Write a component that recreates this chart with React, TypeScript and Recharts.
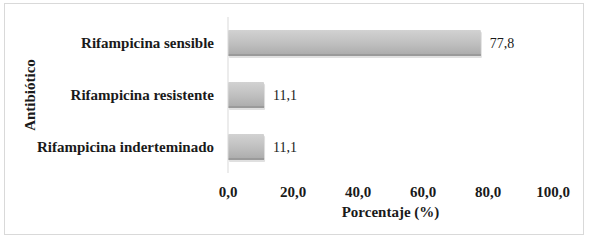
import { BarChart, Bar, XAxis, YAxis, LabelList } from "recharts";

const categories = ["Rifampicina sensible", "Rifampicina resistente", "Rifampicina inderteminado"];
const percentages = [77.8, 11.1, 11.1];
const xTicks = [0, 20, 40, 60, 80, 100];

const data = categories.map((name, i) => ({ name, value: percentages[i] }));

const FONT = "'Liberation Serif', 'Times New Roman', serif";
const TEXT = "#1a1a1a";
const AXIS = "#d9d9d9";

const comma = (v: number) => v.toFixed(1).replace(".", ",");

function ShadedBar(props: any) {
  const { x, y, width, height } = props;
  if (!width || width <= 0) return null;
  return (
    <g>
      <rect x={x + 1} y={y + 2} width={width} height={height} fill="#000" opacity={0.12} rx={1} />
      <rect x={x} y={y} width={width} height={height} fill="url(#barFill)" rx={1} />
      <rect x={x} y={y + height - 2} width={width} height={2} fill="#9a9a9a" />
    </g>
  );
}

export default function App() {
  return (
    <div style={{ position: "fixed", left: 0, top: 0, width: 589, height: 241, background: "#fff" }}>
      <div style={{ position: "absolute", left: 4, top: 3, width: 580, height: 232,
        border: "1px solid #d9d9d9", boxSizing: "border-box" }} />
      <div style={{ position: "absolute", left: 0, top: 0 }}>
        <BarChart width={589} height={241} data={data} layout="vertical"
          margin={{ top: 17, right: 36, bottom: 0, left: 0 }} barSize={26}>
          <defs>
            <linearGradient id="barFill" x1="0" y1="0" x2="0" y2="1">
              <stop offset="0%" stopColor="#d2d2d2" />
              <stop offset="50%" stopColor="#c0c0c0" />
              <stop offset="100%" stopColor="#aaaaaa" />
            </linearGradient>
          </defs>
          <XAxis type="number" domain={[0, 100]} ticks={xTicks} height={68}
            axisLine={false} tickLine={false} tickSize={0} tickMargin={13}
            tickFormatter={comma} interval={0}
            tick={{ fontFamily: FONT, fontSize: 15, fontWeight: 700, fill: TEXT }}
            label={{
              content: (p: any) => {
                const vb = p.viewBox;
                return (
                  <text x={vb.x + vb.width / 2} y={vb.y + 39} dy="0.35em" textAnchor="middle"
                    fontFamily={FONT} fontSize={15} fontWeight={700} fill={TEXT}>
                    Porcentaje (%)
                  </text>
                );
              },
            }} />
          <YAxis type="category" dataKey="name" width={228}
            axisLine={{ stroke: AXIS }} tickLine={false} tickSize={0} tickMargin={14}
            tick={{ fontFamily: FONT, fontSize: 15, fontWeight: 700, fill: TEXT }}
            label={{
              content: (p: any) => {
                const vb = p.viewBox;
                const cx = vb.x + 30;
                const cy = vb.y + vb.height / 2;
                return (
                  <text x={cx} y={cy} dy="0.35em" textAnchor="middle" transform={`rotate(-90 ${cx} ${cy})`}
                    fontFamily={FONT} fontSize={15} fontWeight={700} fill={TEXT}>
                    Antibiótico
                  </text>
                );
              },
            }} />
          <Bar dataKey="value" shape={ShadedBar} isAnimationActive={false}>
            <LabelList dataKey="value" position="right" offset={9} formatter={(v: any) => comma(Number(v))}
              style={{ fontFamily: FONT, fontSize: 14, fill: TEXT }} />
          </Bar>
        </BarChart>
      </div>
    </div>
  );
}
